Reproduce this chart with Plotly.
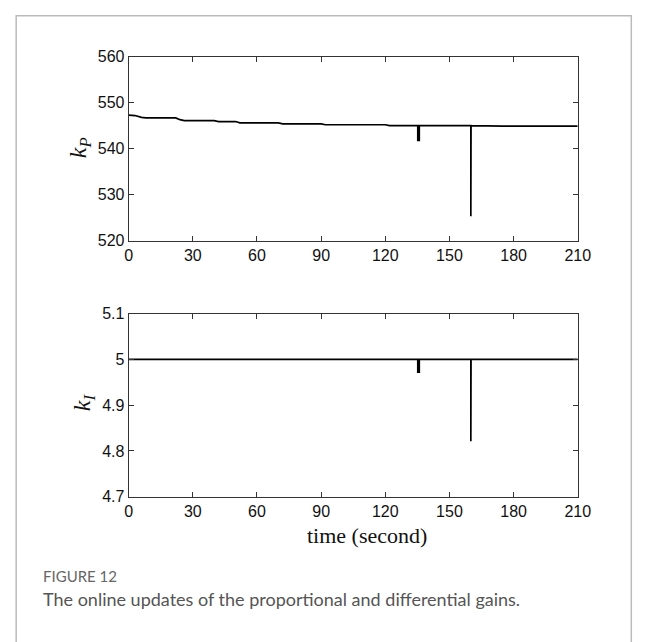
import plotly.graph_objects as go

W, H = 656, 642

# ---- data ----
t_kp = [0, 3, 6, 8, 22, 24, 26, 40, 42, 50, 52, 70, 72, 90, 92, 120, 122,
        135.2, 135.2, 135.9, 135.9, 160, 160, 160.1, 175, 210]
kp = [547.3, 547.2, 546.8, 546.7, 546.7, 546.3, 546.1, 546.1, 545.9, 545.9,
      545.6, 545.6, 545.4, 545.4, 545.2, 545.2, 545.0, 545.0, 541.8, 541.8,
      545.0, 545.0, 525.3, 545.0, 544.9, 544.9]

t_ki = [0, 135.2, 135.2, 135.9, 135.9, 160, 160, 160.1, 210]
ki = [5.0, 5.0, 4.972, 4.972, 5.0, 5.0, 4.821, 5.0, 5.0]

x_ticks = [0, 30, 60, 90, 120, 150, 180, 210]
kp_ticks = [520, 530, 540, 550, 560]
ki_ticks = [4.7, 4.8, 4.9, 5.0, 5.1]
ki_ticklabels = ["4.7", "4.8", "4.9", "5", "5.1"]

# ---- layout geometry (reference pixels) ----
xl, xr = 128, 589
top_t, top_b = 50, 239
bot_t, bot_b = 314, 502

def px(x):
    return x / W

def py(y):
    return 1 - y / H

fig = go.Figure()
fig.add_trace(go.Scatter(x=t_kp, y=kp, mode="lines",
                         line=dict(color="black", width=1.7),
                         xaxis="x", yaxis="y", showlegend=False))
fig.add_trace(go.Scatter(x=t_ki, y=ki, mode="lines",
                         line=dict(color="black", width=1.7),
                         xaxis="x2", yaxis="y2", showlegend=False))

axis_common = dict(
    showline=True, linecolor="#333", linewidth=1, mirror="ticks",
    ticks="inside", ticklen=5, tickcolor="#333", tickwidth=1,
    showgrid=False, zeroline=False,
    tickfont=dict(family="Liberation Sans, Arial", size=16, color="#111"),
)

fig.update_layout(
    width=W, height=H,
    margin=dict(l=0, r=0, t=0, b=0),
    paper_bgcolor="white", plot_bgcolor="white",
    xaxis=dict(domain=[px(xl), px(xr)], range=[0, 210], tickvals=x_ticks,
               anchor="y", **axis_common),
    yaxis=dict(domain=[py(top_b), py(top_t)], range=[520, 560],
               tickvals=kp_ticks, anchor="x", **axis_common),
    xaxis2=dict(domain=[px(xl), px(xr)], range=[0, 210], tickvals=x_ticks,
                anchor="y2", **axis_common),
    yaxis2=dict(domain=[py(bot_b), py(bot_t)], range=[4.7, 5.1],
                tickvals=ki_ticks, ticktext=ki_ticklabels, anchor="x2",
                **axis_common),
)

serif = "Liberation Serif, Times New Roman, serif"
annos = [
    dict(text="<i>k</i><sub><i>P</i></sub>", x=px(78), y=py(143),
         textangle=-90, yanchor="middle",
         font=dict(family=serif, size=24, color="#111")),
    dict(text="<i>k</i><sub><i>I</i></sub>", x=px(82), y=py(405),
         textangle=-90, yanchor="middle",
         font=dict(family=serif, size=24, color="#111")),
    dict(text="time (second)", x=px(373), y=py(527), yanchor="top",
         font=dict(family=serif, size=22, color="#111")),
    dict(text="FIGURE 12", x=px(38), y=py(583), xanchor="left",
         yanchor="middle",
         font=dict(family="Lato, Open Sans, sans-serif", size=15, color="#666")),
    dict(text="The online updates of the proportional and differential gains.",
         x=px(38), y=py(607), xanchor="left", yanchor="middle",
         font=dict(family="Lato, Open Sans, sans-serif", size=18, color="#555")),
]
for a in annos:
    a.update(xref="paper", yref="paper", showarrow=False)
    if "xanchor" not in a:
        a["xanchor"] = "center"
fig.update_layout(annotations=annos)

fig.add_shape(type="rect", xref="paper", yref="paper",
              x0=px(12.5), x1=px(644), y0=-0.2, y1=py(8),
              line=dict(color="#bbb", width=1.5), fillcolor="rgba(0,0,0,0)")

fig.write_html(
    "out.html",
    config={"displayModeBar": False},
    post_script="document.body.style.margin='0';"
                "document.body.style.overflow='hidden';",
)
